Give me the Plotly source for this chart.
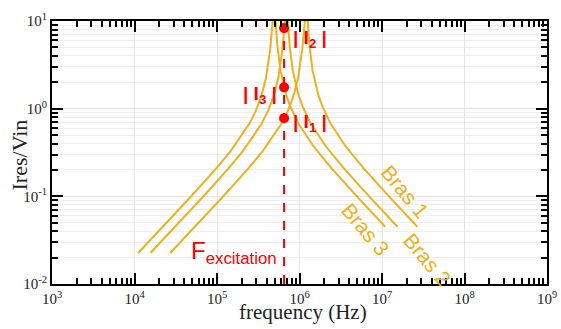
import plotly.graph_objects as go

# ---- data ----
bras1_freq = [2.71e4, 6.0e4, 1.2e5, 2.4e5, 3.6e5, 6.0e5, 7.2e5, 8.4e5, 9.6e5, 1.08e6, 1.116e6, 1.14e6,
              1.164e6, 1.2e6, 1.236e6, 1.26e6, 1.284e6, 1.32e6, 1.44e6, 1.56e6, 1.68e6, 1.92e6, 2.4e6,
              3.6e6, 6.0e6, 1.2e7, 2.676e7]
bras2_freq = [1.559e4, 3.45e4, 6.9e4, 1.38e5, 2.07e5, 3.45e5, 4.14e5, 4.83e5, 5.52e5, 6.21e5, 6.417e5,
              6.555e5, 6.693e5, 6.9e5, 7.107e5, 7.245e5, 7.383e5, 7.59e5, 8.28e5, 8.97e5, 9.66e5,
              1.104e6, 1.38e6, 2.07e6, 3.45e6, 6.9e6, 1.5387e7]
bras3_freq = [1.107e4, 2.45e4, 4.9e4, 9.8e4, 1.47e5, 2.45e5, 2.94e5, 3.43e5, 3.92e5, 4.41e5, 4.557e5,
              4.655e5, 4.753e5, 4.9e5, 5.047e5, 5.145e5, 5.243e5, 5.39e5, 5.88e5, 6.37e5, 6.86e5,
              7.84e5, 9.8e5, 1.47e6, 2.45e6, 4.9e6, 1.0927e7]
bras1_val = [0.0226, 0.0501, 0.101, 0.208, 0.330, 0.667, 0.938, 1.37, 2.22, 4.74, 6.88, 9.74, 10.4, 10.8,
             10.4, 9.9, 7.38, 5.24, 2.73, 1.88, 1.46, 1.03, 0.667, 0.375, 0.208, 0.101, 0.0450]
bras2_val = [0.0226, 0.0501, 0.101, 0.208, 0.330, 0.667, 0.938, 1.37, 2.22, 4.74, 6.88, 9.74, 10.4, 10.8,
             10.4, 9.9, 7.38, 5.24, 2.73, 1.88, 1.46, 1.03, 0.667, 0.375, 0.208, 0.101, 0.0450]
bras3_val = [0.0226, 0.0501, 0.101, 0.208, 0.330, 0.667, 0.938, 1.37, 2.22, 4.74, 6.88, 9.74, 10.4, 10.8,
             10.4, 9.9, 7.38, 5.24, 2.73, 1.88, 1.46, 1.03, 0.667, 0.375, 0.208, 0.101, 0.0450]

f_excitation = 6.5e5
exc_points = [0.78, 8.3, 1.75]          # |I1|, |I2|, |I3|
exc_line = [0.01, 8.3]

x_tickvals = [1e3, 1e4, 1e5, 1e6, 1e7, 1e8, 1e9]
x_ticktext = ["10<sup>3</sup>", "10<sup>4</sup>", "10<sup>5</sup>", "10<sup>6</sup>",
              "10<sup>7</sup>", "10<sup>8</sup>", "10<sup>9</sup>"]
y_tickvals = [1e-2, 1e-1, 1e0, 1e1]
y_ticktext = ["10<sup>-2</sup>", "10<sup>-1</sup>", "10<sup>0</sup>", "10<sup>1</sup>"]

ORANGE = "#EDB120"
RED = "#FF0000"
SERIF = "Liberation Serif, Times New Roman"
SANS = "Liberation Sans, Arial"

fig = go.Figure()
for fr, vals in [(bras1_freq, bras1_val), (bras2_freq, bras2_val), (bras3_freq, bras3_val)]:
    fig.add_trace(go.Scatter(x=fr, y=vals, mode="lines",
                             line=dict(color=ORANGE, width=2), showlegend=False))

fig.add_trace(go.Scatter(x=[f_excitation, f_excitation], y=exc_line, mode="lines",
                         line=dict(color=RED, width=2, dash="dash"), showlegend=False))
fig.add_trace(go.Scatter(x=[f_excitation] * 3, y=exc_points, mode="markers",
                         marker=dict(color=RED, size=10), showlegend=False))

lbl_font = dict(family=SANS, size=19, color=RED)
anns = [
    dict(x=6.13, y=0.79, text="<b>|&nbsp;I<sub>2</sub>&nbsp;|</b>"),
    dict(x=5.52, y=0.16, text="<b>|&nbsp;I<sub>3</sub>&nbsp;|</b>"),
    dict(x=6.13, y=-0.16, text="<b>|&nbsp;I<sub>1</sub>&nbsp;|</b>"),
]
for a in anns:
    fig.add_annotation(x=a["x"], y=a["y"], xref="x", yref="y", text=a["text"],
                       showarrow=False, font=lbl_font)

fig.add_annotation(x=5.2, y=-1.64, xref="x", yref="y",
                   text="F<sub>excitation</sub>", showarrow=False,
                   font=dict(family=SANS, size=24, color=RED))

bras_font = dict(family=SANS, size=21, color=ORANGE)
for txt, x, y in [("Bras 1", 7.28, -0.94), ("Bras 3", 6.8, -1.38), ("Bras 2", 7.55, -1.72)]:
    fig.add_annotation(x=x, y=y, xref="x", yref="y", text=txt, showarrow=False,
                       textangle=50, font=bras_font)

# axis titles
fig.add_annotation(x=0.508, y=-0.105, xref="paper", yref="paper", text="frequency (Hz)",
                   showarrow=False, xanchor="center", yanchor="middle",
                   font=dict(family=SERIF, size=21, color="#222"))
fig.add_annotation(x=-0.066, y=0.49, xref="paper", yref="paper", text="Ires/Vin",
                   showarrow=False, textangle=-90, xanchor="center", yanchor="middle",
                   font=dict(family=SERIF, size=22, color="#222"))

axis_common = dict(
    type="log", showline=True, linecolor="black", linewidth=2, mirror="allticks",
    ticks="inside", ticklen=11, tickwidth=2, tickcolor="black", automargin=False,
    showgrid=True, gridcolor="#E6E6E6", gridwidth=1, zeroline=False,
    tickfont=dict(family=SERIF, size=15, color="#222"),
)

fig.update_xaxes(**axis_common, range=[3, 9], tickvals=x_tickvals, ticktext=x_ticktext,
                 minor=dict(ticks="inside", ticklen=6, tickwidth=1.5, tickcolor="black",
                            dtick="D1", showgrid=False))
fig.update_yaxes(**axis_common, range=[-2, 1], tickvals=y_tickvals, ticktext=y_ticktext,
                 minor=dict(ticks="inside", ticklen=6, tickwidth=1.5, tickcolor="black",
                            dtick="D1", showgrid=True, gridcolor="#EEEEEE"))

fig.update_layout(width=561, height=329, margin=dict(l=52, r=14, t=21, b=45),
                  plot_bgcolor="white", paper_bgcolor="white")

fig.write_html("out.html", config={"displayModeBar": False},
               post_script="document.body.style.margin='0';")
